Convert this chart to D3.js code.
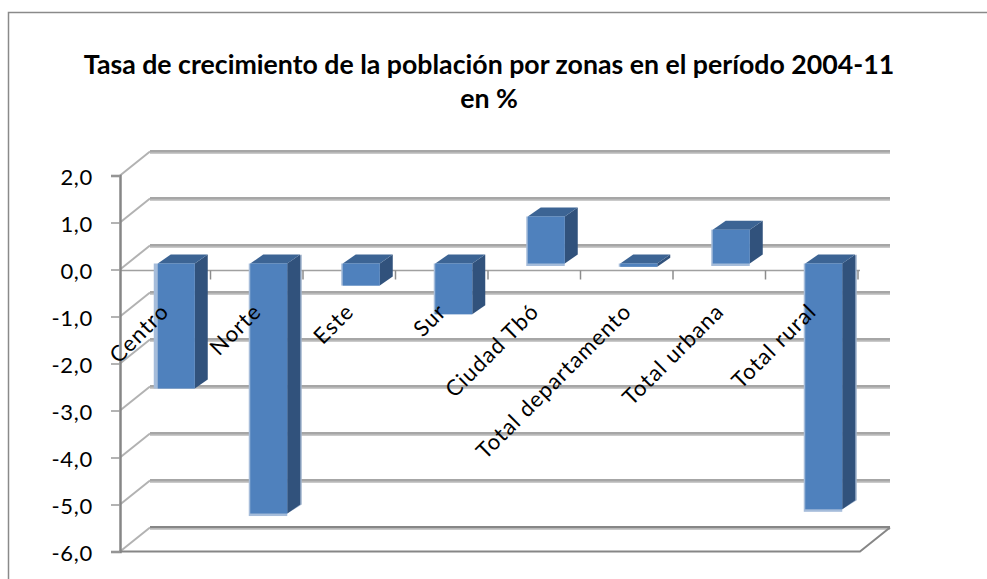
<!DOCTYPE html>
<html>
<head>
<meta charset="utf-8">
<script src="https://cdn.jsdelivr.net/npm/d3@7"></script>
<style>
  html, body { margin: 0; padding: 0; background: #fff; }
  svg { display: block; }
  text { font-family: Lato, "Open Sans", sans-serif; fill: #000; }
</style>
</head>
<body>
<svg id="chart" width="987" height="579"></svg>
<script>
var categories = ["Centro", "Norte", "Este", "Sur", "Ciudad Tbó", "Total departamento", "Total urbana", "Total rural"];
var values = [-2.66, -5.32, -0.47, -1.08, 1.0, -0.07, 0.72, -5.23];
var yTicks = [2, 1, 0, -1, -2, -3, -4, -5, -6];
var titleLines = ["Tasa de crecimiento  de la población por zonas en el período 2004-11", "en %"];

var svg = d3.select("#chart");

// box around the chart, only top and left are inside the picture
svg.append("path")
    .attr("d", "M8.5,579V12.5H987")
    .attr("fill", "none")
    .attr("stroke", "#8a8a8a")
    .attr("stroke-width", 1.5);

svg.selectAll("text.title")
    .data(titleLines)
    .enter().append("text")
    .attr("class", "title")
    .attr("x", 489)
    .attr("y", function (d, i) { return 74 + i * 34; })
    .attr("text-anchor", "middle")
    .attr("font-size", 26.7)
    .attr("font-weight", 700)
    .text(function (d) { return d; });

var y = d3.scaleLinear().domain([-6, 2]).range([551.5, 175.5]);
var x = d3.scaleBand().domain(categories).range([118, 858]);

// 3d offsets: back wall, and bar front/back inside the floor
var wallX = 30, wallY = -24;
var barDX = 12, barDY = -6, sideX = 13, sideY = -9, barW = 37;

// back wall gridlines
var grid = svg.append("g");
grid.selectAll("line.lo")
    .data(yTicks)
    .enter().append("line")
    .attr("class", "lo")
    .attr("x1", 120 + wallX).attr("x2", 860 + wallX)
    .attr("y1", function (d) { return y(d) + wallY + 1.2; })
    .attr("y2", function (d) { return y(d) + wallY + 1.2; })
    .attr("stroke", "#b8b8b8")
    .attr("stroke-width", 2);
grid.selectAll("line.hi")
    .data(yTicks)
    .enter().append("line")
    .attr("class", "hi")
    .attr("x1", 120 + wallX).attr("x2", 860 + wallX)
    .attr("y1", function (d) { return y(d) + wallY - 0.5; })
    .attr("y2", function (d) { return y(d) + wallY - 0.5; })
    .attr("stroke", function (d) { return d === -6 ? "#868686" : "#a6a6a6"; })
    .attr("stroke-width", 2);

// side wall diagonals
grid.selectAll("line.side")
    .data(yTicks)
    .enter().append("line")
    .attr("class", "side")
    .attr("x1", 120).attr("x2", 120 + wallX)
    .attr("y1", function (d) { return y(d); })
    .attr("y2", function (d) { return y(d) + wallY; })
    .attr("stroke", "#b2b2b2")
    .attr("stroke-width", 2);

// floor
svg.append("path")
    .attr("d", "M120," + y(-6) + "H860L" + (860 + wallX) + "," + (y(-6) + wallY))
    .attr("fill", "none")
    .attr("stroke", "#868686")
    .attr("stroke-width", 2);

// zero line and its ticks
var zero = svg.append("g");
zero.append("line")
    .attr("x1", 120).attr("x2", 860)
    .attr("y1", y(0) + 1).attr("y2", y(0) + 1)
    .attr("stroke", "#a0a0a0")
    .attr("stroke-width", 1.5);
zero.selectAll("line.tick")
    .data(categories)
    .enter().append("line")
    .attr("class", "tick")
    .attr("x1", function (d) { return x(d) + x.step(); })
    .attr("x2", function (d) { return x(d) + x.step(); })
    .attr("y1", y(0) + 1).attr("y2", y(0) + 10)
    .attr("stroke", "#8c8c8c")
    .attr("stroke-width", 1.5);

// bars
var bars = svg.selectAll("g.bar")
    .data(values)
    .enter().append("g")
    .attr("class", "bar");

function left(d, i) { return x(categories[i]) + x.bandwidth() / 2 + barDX - barW / 2; }
function topY(d) { return y(Math.max(d, 0)) + barDY; }
function botY(d) { return y(Math.min(d, 0)) + barDY; }

// pale edge seen around the bars
bars.append("rect")
    .attr("x", function (d, i) { return left(d, i) - (i === 0 ? 4 : 1.5); })
    .attr("y", topY)
    .attr("width", function (d, i) { return barW + (i === 0 ? 4 : 1.5); })
    .attr("height", function (d) { return botY(d) - topY(d) + (d > 0 || d < -5 ? 2.5 : 0); })
    .attr("fill", "#a5bcda");
bars.append("path")
    .attr("d", function (d, i) {
        var x1 = left(d, i) + barW;
        return "M" + x1 + "," + topY(d) + "L" + (x1 + sideX + 1.5) + "," + (topY(d) + sideY) + "V" + (botY(d) + sideY) + "L" + x1 + "," + botY(d) + "Z";
    })
    .attr("fill", function (d) { return d < -5 ? "#9fb3cd" : "none"; });
bars.append("path")
    .attr("d", function (d, i) {
        var x1 = left(d, i) + barW;
        return "M" + x1 + "," + topY(d) + "l" + sideX + "," + sideY + "V" + (botY(d) + sideY) + "L" + x1 + "," + botY(d) + "Z";
    })
    .attr("fill", "#31527c");
bars.append("path")
    .attr("d", function (d, i) {
        var x0 = left(d, i);
        return "M" + x0 + "," + topY(d) + "l" + sideX + "," + sideY + "h" + barW + "l" + (-sideX) + "," + (-sideY) + "Z";
    })
    .attr("fill", "#3c6494");
bars.append("rect")
    .attr("x", left)
    .attr("y", topY)
    .attr("width", barW)
    .attr("height", function (d) { return botY(d) - topY(d); })
    .attr("fill", "#4f81bd");

// value axis
var comma = d3.formatLocale({ decimal: ",", thousands: ".", grouping: [3], currency: ["", ""], minus: "-" }).format(".1f");
var yAxis = d3.axisLeft(y).tickValues(yTicks).tickFormat(comma).tickSize(9).tickPadding(18);
var axisG = svg.append("g")
    .attr("transform", "translate(120,0)")
    .call(yAxis);
axisG.select(".domain").attr("stroke", "#868686").attr("stroke-width", 2.5);
axisG.selectAll(".tick line").attr("stroke", "#9a9a9a").attr("stroke-width", 1.5);
axisG.selectAll(".tick text")
    .attr("font-size", 22)
    .attr("letter-spacing", 0.7)
    .attr("font-family", "Lato, sans-serif")
    .attr("fill", "#000")
    .attr("y", 1.5);

// category labels run over the bars
svg.selectAll("text.cat")
    .data(categories)
    .enter().append("text")
    .attr("class", "cat")
    .attr("transform", function (d) {
        return "translate(" + (x(d) + x.bandwidth() / 2 + 6) + ",313) rotate(-45)";
    })
    .attr("text-anchor", "end")
    .attr("font-size", 22)
    .attr("letter-spacing", 1.1)
    .text(function (d) { return d; });
</script>
</body>
</html>
